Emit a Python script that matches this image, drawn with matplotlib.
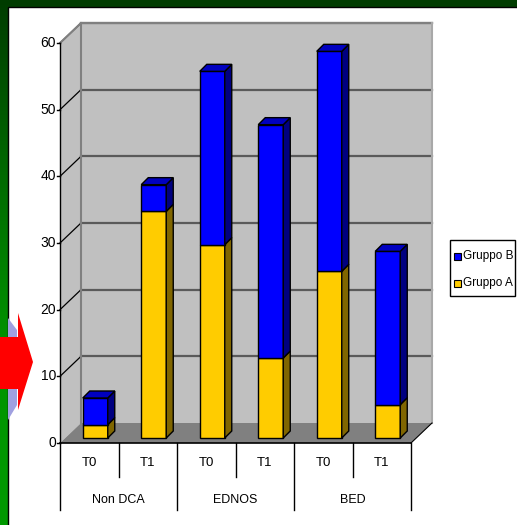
import numpy as np
import matplotlib
matplotlib.use("Agg")
import matplotlib.pyplot as plt
from matplotlib.patches import Polygon, Rectangle
from matplotlib.transforms import Affine2D

# dati
gruppi = ["Non DCA", "EDNOS", "BED"]
tempi = ["T0", "T1"]
gruppo_a = [2, 34, 29, 12, 25, 5]
gruppo_b = [4, 4, 26, 35, 33, 23]
y_ticks = [0, 10, 20, 30, 40, 50, 60]

plt.rcParams['font.family'] = ['Liberation Sans', 'DejaVu Sans']

W, H = 517, 525
fig = plt.figure(figsize=(W / 100, H / 100), dpi=100)
fig.patch.set_facecolor('white')

# trasformazione in pixel (origine in alto a sinistra) per le decorazioni
pix = Affine2D().scale(1 / W, -1 / H).translate(0, 1) + fig.transFigure

# sfondo verde con cornice
bg = fig.add_axes([0, 0, 1, 1], zorder=-5)
bg.axis('off')
grad = np.linspace(0, 1, 256).reshape(-1, 1)
green = plt.matplotlib.colors.LinearSegmentedColormap.from_list(
    'g', ['#003c00', '#006a00', '#009400', '#009a00'])
bg.imshow(grad, cmap=green, aspect='auto', extent=[0, 1, 0, 1], origin='upper')
bg.set_xlim(0, 1)
bg.set_ylim(0, 1)
fig.patches.append(Rectangle((8, 7), W, H, transform=pix, facecolor='white',
                             edgecolor='black', lw=1, zorder=-4))

# asse principale: 1 unità x = 1 barra, 1 unità y = valore
X0, SLOT, Y0, PPU = 60, 58.5, 443, 400 / 60
ax = fig.add_axes([0, 0, 1, 1])
ax.axis('off')
ax.set_xlim(-X0 / SLOT, (W - X0) / SLOT)
ax.set_ylim((Y0 - H) / PPU, Y0 / PPU)

n = len(gruppo_a)
ymax = y_ticks[-1]
dxb, dyb = 21 / SLOT, 20 / PPU  # profondità pareti
dxf, dyf = 6 / SLOT, 5 / PPU     # piano frontale barre
dxd, dyd = 7 / SLOT, 7 / PPU     # profondità barre
bw = 25 / SLOT

# pareti e pavimento
ax.add_patch(Polygon([(0, 0), (0, ymax), (dxb, ymax + dyb), (dxb, dyb)],
                     facecolor='#c0c0c0', edgecolor='none'))
ax.add_patch(Rectangle((dxb, dyb), n, ymax, facecolor='#c0c0c0', edgecolor='none'))
ax.add_patch(Polygon([(0, 0), (dxb, dyb), (n + dxb, dyb), (n, 0)],
                     facecolor='#808080', edgecolor='none'))
for t in y_ticks[1:]:
    ax.plot([dxb, n + dxb], [t + dyb, t + dyb], color='#5a5a5a', lw=1.6)
    ax.plot([0, dxb], [t, t + dyb], color='black', lw=0.9)
ax.plot([0, dxb, n + dxb], [ymax, ymax + dyb, ymax + dyb], color='#808080', lw=1.5)
ax.plot([dxb, dxb], [dyb, ymax + dyb], color='#808080', lw=1.5)
ax.plot([n + dxb, n + dxb], [dyb, ymax + dyb], color='#a8a8a8', lw=1.5)
ax.plot([n, n + dxb], [0, dyb], color='black', lw=0.8)

# barre 3D impilate
def box(x, v0, v1, front, side, top=None):
    xl, xr = x - bw / 2 + dxf, x + bw / 2 + dxf
    y0, y1 = v0 + dyf, v1 + dyf
    ax.add_patch(Polygon([(xl, y0), (xr, y0), (xr, y1), (xl, y1)],
                         facecolor=front, edgecolor='black', lw=1, zorder=3))
    ax.add_patch(Polygon([(xr, y0), (xr + dxd, y0 + dyd), (xr + dxd, y1 + dyd), (xr, y1)],
                         facecolor=side, edgecolor='black', lw=1, zorder=3))
    if top:
        ax.add_patch(Polygon([(xl, y1), (xr, y1), (xr + dxd, y1 + dyd), (xl + dxd, y1 + dyd)],
                             facecolor=top, edgecolor='black', lw=1, zorder=3))

for i in range(n):
    x = i + 0.5
    a, b = gruppo_a[i], gruppo_b[i]
    box(x, 0, a, '#ffcc00', '#806600')
    box(x, a, a + b, '#0000ff', '#000080', '#0000c0')

# asse y
ax.plot([0, 0], [0, ymax], color='black', lw=1)
ax.plot([0, n], [0, 0], color='black', lw=1.2)
for t in y_ticks:
    ax.plot([-3 / SLOT, 0], [t, t], color='black', lw=1)
    ax.text(-4 / SLOT, t, str(t), ha='right', va='center', fontsize=10)

# tabella categorie
short = -34 / PPU
long_ = -67 / PPU
for k in range(n + 1):
    ax.plot([k, k], [0, long_ if k % 2 == 0 else short], color='black', lw=1)
for i in range(n):
    ax.text(i + 0.5, -20 / PPU, tempi[i % 2], ha='center', va='center', fontsize=9.5)
for g, name in enumerate(gruppi):
    ax.text(2 * g + 1, -57 / PPU, name, ha='center', va='center', fontsize=9)

# legenda
fig.patches.append(Rectangle((450, 240), 65, 56, transform=pix, facecolor='white',
                             edgecolor='black', lw=1))
for yy, col, lab in [(256, '#0000ff', 'Gruppo B'), (283, '#ffcc00', 'Gruppo A')]:
    fig.patches.append(Rectangle((454, yy - 3.5), 7, 7, transform=pix, facecolor=col,
                                 edgecolor='black', lw=0.8))
    fig.text(463, yy, lab, transform=pix, fontsize=8.5, va='center', ha='left')

# freccia rossa con ombra
fig.patches.append(Polygon([(8, 318), (17, 330), (17, 405), (8, 420)], closed=True,
                           transform=pix, facecolor='#a0a0e0', edgecolor='none'))
fig.patches.append(Polygon([(0, 337), (18, 337), (18, 313), (33, 362), (18, 410),
                            (18, 389), (0, 389)], closed=True, transform=pix,
                           facecolor='#ff0000', edgecolor='none'))

fig.savefig('out.png', dpi=100)
